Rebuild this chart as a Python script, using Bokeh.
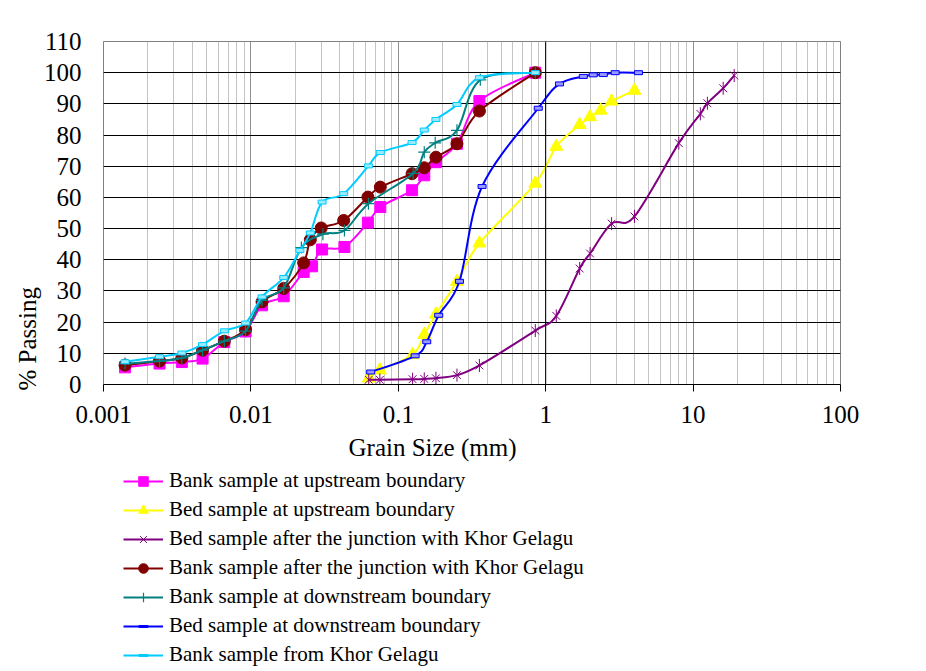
import math
import numpy as np
from bokeh.plotting import figure
from bokeh.layouts import column
from bokeh.models import (Range1d, FixedTicker, Span, Legend, LegendItem,
                          ColumnDataSource, CustomJSTickFormatter, Title)
from bokeh.embed import file_html
from bokeh.resources import INLINE

# ---------------- data ----------------
x_tick_values = [0.001, 0.01, 0.1, 1, 10, 100]
x_tick_labels = ["0.001", "0.01", "0.1", "1", "10", "100"]
y_tick_values = [0, 10, 20, 30, 40, 50, 60, 70, 80, 90, 100, 110]

series_names = [
    "Bank sample at upstream boundary",
    "Bed sample at upstream boundary",
    "Bed sample after the junction with Khor Gelagu",
    "Bank sample after the junction with Khor Gelagu",
    "Bank sample at downstream boundary",
    "Bed sample at downstream boundary",
    "Bank sample from Khor Gelagu",
]

bank_up_x = [0.0014, 0.0024, 0.0034, 0.0047, 0.0066, 0.0092, 0.0119, 0.0167, 0.0228, 0.026,
             0.0304, 0.0431, 0.0622, 0.0755, 0.124, 0.15, 0.18, 0.25, 0.355, 0.85]
bank_up_y = [5.5, 6.7, 7.2, 8.3, 13.6, 17.0, 25.4, 28.3, 36.1, 37.9,
             43.3, 44.1, 51.9, 56.9, 62.3, 67.1, 71.3, 77.2, 90.9, 100]

bed_up_x = [0.063, 0.075, 0.125, 0.15, 0.18, 0.25, 0.355, 0.85, 1.18, 1.7, 2.0, 2.36, 2.8, 4.0]
bed_up_y = [2.0, 4.6, 9.5, 16.0, 22.5, 33.0, 45.3, 64.5, 76.3, 83.3, 85.8, 87.9, 90.8, 94.3]

bed_junc_x = [0.063, 0.075, 0.125, 0.15, 0.18, 0.25, 0.355, 0.85, 1.18, 1.7, 2.0, 2.8, 4.0,
              8.0, 11.2, 12.5, 16.0, 19.0]
bed_junc_y = [1.5, 1.5, 1.7, 1.8, 2.0, 3.0, 6.1, 17.3, 22.0, 37.2, 42.0, 51.6, 53.9,
              77.4, 86.8, 90.2, 95.0, 99.1]

bank_junc_x = [0.0014, 0.0024, 0.0034, 0.0047, 0.0066, 0.0092, 0.0119, 0.0167, 0.0228, 0.0253,
               0.030, 0.0426, 0.0622, 0.0755, 0.124, 0.15, 0.18, 0.25, 0.355, 0.85]
bank_junc_y = [6.2, 7.5, 8.5, 11.0, 13.9, 17.6, 26.5, 30.8, 39.0, 46.4,
               50.2, 52.6, 60.1, 63.3, 67.6, 69.5, 72.9, 77.2, 87.7, 100]

bank_down_x = [0.0014, 0.0024, 0.0034, 0.0047, 0.0066, 0.0092, 0.0119, 0.0167, 0.022, 0.0308,
               0.0431, 0.0627, 0.126, 0.15, 0.178, 0.25, 0.36, 0.85]
bank_down_y = [6.7, 7.5, 8.5, 11.0, 13.9, 17.1, 27.0, 31.0, 43.9, 48.2,
               49.4, 58.0, 67.7, 74.5, 77.5, 81.5, 97.7, 100]

bed_down_x = [0.065, 0.13, 0.156, 0.188, 0.26, 0.37, 0.89, 1.24, 1.8, 2.1, 2.46, 2.96, 4.26]
bed_down_y = [4.0, 9.2, 13.7, 22.2, 33.1, 63.5, 88.6, 96.4, 98.8, 99.3, 99.4, 100, 100]

khor_x = [0.0014, 0.0024, 0.0034, 0.0047, 0.0066, 0.0092, 0.0119, 0.0167, 0.0215, 0.0253,
          0.0304, 0.0426, 0.0627, 0.0755, 0.124, 0.15, 0.18, 0.25, 0.355, 0.85]
khor_y = [7.3, 8.9, 10.1, 12.8, 17.2, 19.7, 28.1, 34.3, 43.0, 48.6,
          58.5, 61.2, 70.1, 74.4, 77.6, 81.6, 85.0, 89.8, 98.4, 100]

series_x = [bank_up_x, bed_up_x, bed_junc_x, bank_junc_x, bank_down_x, bed_down_x, khor_x]
series_y = [bank_up_y, bed_up_y, bed_junc_y, bank_junc_y, bank_down_y, bed_down_y, khor_y]

colors = ["#FF00FF", "#FFFF00", "#800080", "#800000", "#008080", "#0000FF", "#00CCFF"]
markers = ["square", "triangle", "star6", "circle", "cross", "dash", "dash"]

FONT = "Liberation Serif"


def smooth_source(xs, ys):
    """Bezier segments (Catmull-Rom style smoothing, like Excel's smoothed lines)
    computed in log10(x) / y space from the data points."""
    u = np.log10(np.asarray(xs, dtype=float))
    y = np.asarray(ys, dtype=float)
    n = len(u)
    d = {k: [] for k in ["x0", "y0", "x1", "y1", "cx0", "cy0", "cx1", "cy1"]}
    for i in range(n - 1):
        a = max(i - 1, 0)
        b = min(i + 2, n - 1)
        c0u = u[i] + (u[i + 1] - u[a]) / 6.0
        c0y = y[i] + (y[i + 1] - y[a]) / 6.0
        c1u = u[i + 1] - (u[b] - u[i]) / 6.0
        c1y = y[i + 1] - (y[b] - y[i]) / 6.0
        d["x0"].append(10 ** u[i]); d["y0"].append(y[i])
        d["x1"].append(10 ** u[i + 1]); d["y1"].append(y[i + 1])
        d["cx0"].append(10 ** c0u); d["cy0"].append(c0y)
        d["cx1"].append(10 ** c1u); d["cy1"].append(c1y)
    return ColumnDataSource(d)


def add_markers(fig, xs, ys, mk, c, legend_panel=False):
    """Returns the list of marker renderers for one series."""
    if mk == "square":
        return [fig.scatter(xs, ys, marker="square", size=11, fill_color=c, line_color=c)]
    if mk == "triangle":
        return [fig.scatter(xs, ys, marker="triangle", size=13, fill_color=c, line_color=c)]
    if mk == "star6":
        # Excel "star" marker: an X with a vertical stroke
        return [fig.scatter(xs, ys, marker="x", size=11, line_color=c, line_width=1),
                fig.scatter(xs, ys, marker="dash", size=13, angle=math.pi / 2,
                            line_color=c, line_width=1)]
    if mk == "circle":
        return [fig.scatter(xs, ys, marker="circle", size=12, fill_color=c, line_color=c)]
    if mk == "cross":
        return [fig.scatter(xs, ys, marker="cross", size=12, line_color=c, line_width=1.2)]
    if legend_panel:
        return [fig.scatter(xs, ys, marker="dash", size=8, line_color=c, line_width=3)]
    return [fig.scatter(xs, ys, marker="dash", size=8, line_color=c, line_width=4),
            fig.rect(xs, ys, width=8, height=4, width_units="screen", height_units="screen",
                     fill_color="#ffffff", fill_alpha=0.6, line_color=c, line_width=1)]


MAIN_H = 466
p = figure(width=926, height=MAIN_H, x_axis_type="log",
           x_range=Range1d(0.001, 100), y_range=Range1d(0, 110),
           output_backend="svg", toolbar_location=None,
           min_border_left=103, min_border_right=86, min_border_top=41,
           min_border_bottom=MAIN_H - 384,
           background_fill_color="white", border_fill_color="white")
p.outline_line_color = "#808080"
p.outline_line_width = 1

minor = [m * 10.0 ** e for e in range(-3, 2) for m in range(2, 10)]
p.xaxis.ticker = FixedTicker(ticks=x_tick_values, minor_ticks=minor)
p.xaxis.formatter = CustomJSTickFormatter(
    args=dict(vals=x_tick_values, labs=x_tick_labels),
    code="""
    for (let i = 0; i < vals.length; i++) {
        if (Math.abs(Math.log10(vals[i]) - Math.log10(tick)) < 1e-6) { return labs[i]; }
    }
    return '';
    """)
p.yaxis.ticker = FixedTicker(ticks=y_tick_values, minor_ticks=[])

p.xgrid.grid_line_color = "#909090"
p.xgrid.minor_grid_line_color = "#c4c4c4"
p.ygrid.grid_line_color = "#000000"
p.ygrid.grid_line_width = 1

for ax in (p.xaxis, p.yaxis):
    ax.major_label_text_font = FONT
    ax.major_label_text_font_size = "25px"
    ax.major_label_text_color = "black"
    ax.minor_tick_in = 0
    ax.minor_tick_out = 0
    ax.major_tick_in = 0

p.xaxis.major_tick_out = 7
p.xaxis.major_tick_line_color = "black"
p.xaxis.axis_line_color = "black"
p.xaxis.major_label_standoff = 14
p.yaxis.major_tick_out = 0
p.yaxis.axis_line_color = None
p.yaxis.major_label_standoff = 22

# value axis crossing at 1 (Excel log default)
p.add_layout(Span(location=1, dimension="height", line_color="black", line_width=1))

for k in range(len(series_names)):
    xs, ys, c, mk = series_x[k], series_y[k], colors[k], markers[k]
    src = smooth_source(xs, ys)
    p.bezier(x0="x0", y0="y0", x1="x1", y1="y1", cx0="cx0", cy0="cy0",
             cx1="cx1", cy1="cy1", source=src, line_color=c, line_width=2)
    add_markers(p, xs, ys, mk, c)

# axis titles (placed off-centre like the original)
xt = Title(text="Grain Size (mm)", align="left", offset=245, standoff=12,
           text_font=FONT, text_font_size="25px", text_font_style="normal",
           text_color="black")
p.add_layout(xt, "below")

yt = Title(text="% Passing", align="left", offset=-6, standoff=0,
           text_font=FONT, text_font_size="25px", text_font_style="normal",
           text_color="black")
p.add_layout(yt, "left")

# ---------------- legend panel below the chart ----------------
# (legend-only renderers: same series, kept outside this panel's visible frame)
LEG_H = 671 - MAIN_H
lf = figure(width=926, height=LEG_H, x_range=Range1d(0, 1), y_range=Range1d(-2, -1),
            output_backend="svg", toolbar_location=None, min_border=0,
            x_axis_location=None, y_axis_location=None,
            background_fill_color="white", border_fill_color="white")
lf.grid.visible = False
lf.outline_line_color = None

legend_items = []
for k in range(len(series_names)):
    xs, ys, c, mk = series_x[k], series_y[k], colors[k], markers[k]
    lr = lf.line(xs, ys, line_color=c, line_width=2)
    mrs = add_markers(lf, xs, ys, mk, c, legend_panel=True)
    legend_items.append(LegendItem(label=series_names[k], renderers=[lr] + mrs))

legend = Legend(items=legend_items, location=(20, 4), orientation="vertical",
                label_text_font=FONT, label_text_font_size="21px", label_text_color="black",
                glyph_width=40, glyph_height=24, label_height=24, spacing=4,
                padding=0, margin=0, label_standoff=6,
                border_line_color=None, background_fill_alpha=0)
lf.add_layout(legend, "center")

layout = column(p, lf, spacing=0)
open("out.html", "w").write(file_html(layout, INLINE))
